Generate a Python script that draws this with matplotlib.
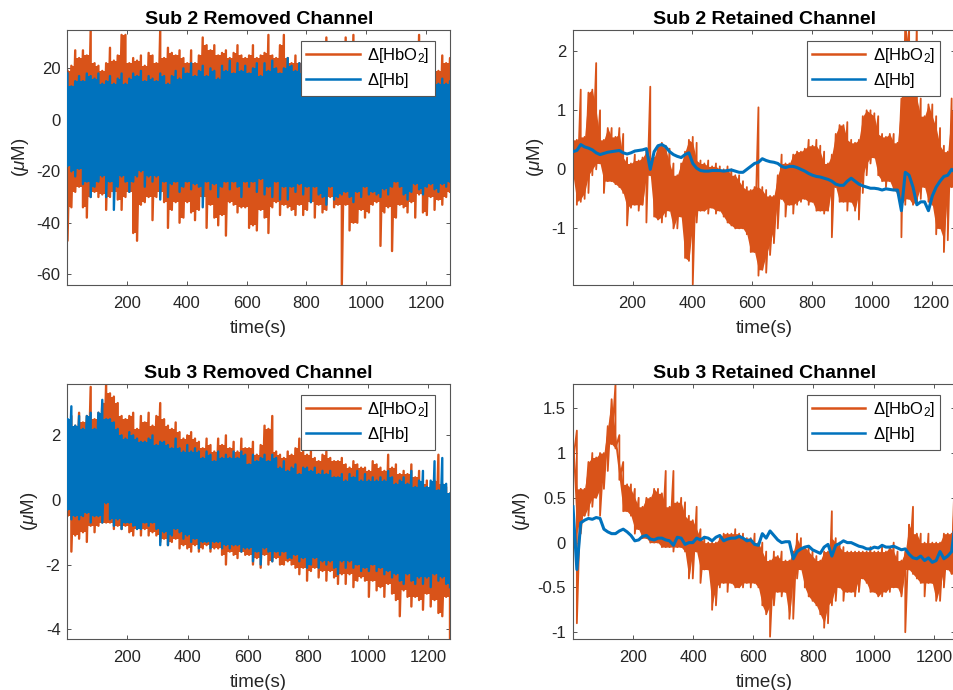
"""Four fNIRS channel traces: removed vs retained channels for subjects 2 and 3."""

import numpy as np
import matplotlib

matplotlib.use("Agg")
import matplotlib.pyplot as plt

plt.rcParams["font.family"] = ["Liberation Sans", "DejaVu Sans"]
plt.rcParams["mathtext.fontset"] = "custom"
plt.rcParams["mathtext.rm"] = "Liberation Sans"
plt.rcParams["mathtext.it"] = "Liberation Sans:italic"
plt.rcParams["mathtext.bf"] = "Liberation Sans:bold"

ORANGE = "#D95319"
BLUE = "#0072BD"
EDGE = "#555555"
TEXT = "#262626"

# dense panels: upper and lower reach of each trace, read every ~13 s
S2_REM_HBO2_TOP = [
    19, 21, 27, 24, 27, 25, 35, 22, 21, 19,
    22, 28, 23, 25, 33, 33, 22, 24, 23, 25,
    21, 26, 25, 22, 35, 24, 28, 26, 25, 27,
    24, 22, 27, 22, 25, 32, 29, 27, 29, 25,
    26, 27, 24, 26, 29, 25, 24, 25, 29, 24,
    25, 26, 33, 25, 24, 29, 33, 24, 22, 25,
    22, 24, 26, 23, 24, 26, 23, 32, 24, 22,
    24, 22, 32, 24, 33, 24, 22, 30, 25, 23,
    22, 25, 23, 26, 24, 22, 24, 23, 25, 22,
    24, 33, 23, 20, 22, 24, 19, 25, 22, 24,
]
S2_REM_HBO2_BOT = [
    -47, -34, -28, -26, -34, -38, -30, -28, -30, -29,
    -35, -30, -28, -31, -35, -30, -28, -44, -47, -33,
    -32, -30, -39, -30, -28, -32, -42, -35, -32, -40,
    -38, -32, -36, -39, -35, -30, -42, -33, -38, -41,
    -37, -45, -32, -33, -36, -34, -34, -42, -41, -43,
    -35, -38, -44, -34, -32, -37, -33, -34, -35, -37,
    -33, -37, -35, -32, -38, -33, -36, -35, -30, -34,
    -33, -64, -33, -43, -40, -40, -35, -38, -36, -33,
    -32, -49, -36, -34, -51, -38, -33, -34, -36, -32,
    -38, -29, -36, -37, -30, -35, -31, -33, -30, -28,
]
S2_REM_HB_TOP = [
    18, 13, 15, 17, 15, 18, 17, 16, 18, 14,
    15, 17, 14, 16, 18, 14, 16, 18, 17, 19,
    15, 17, 16, 15, 18, 17, 14, 17, 19, 16,
    20, 18, 22, 17, 19, 21, 17, 20, 19, 16,
    21, 19, 23, 18, 22, 19, 21, 18, 20, 22,
    17, 22, 19, 23, 20, 18, 20, 24, 21, 19,
    22, 18, 20, 24, 18, 20, 19, 17, 15, 17,
    14, 16, 18, 13, 15, 14, 16, 14, 13, 15,
    14, 13, 15, 13, 14, 16, 13, 15, 12, 14,
    15, 14, 12, 15, 13, 15, 14, 16, 14, 15,
]
S2_REM_HB_BOT = [
    -18, -20, -22, -19, -25, -24, -30, -26, -24, -22,
    -30, -24, -35, -26, -22, -24, -28, -24, -22, -20,
    -26, -22, -24, -22, -31, -24, -30, -25, -24, -28,
    -26, -24, -27, -25, -26, -34, -24, -27, -25, -30,
    -26, -24, -27, -24, -26, -30, -24, -26, -24, -28,
    -23, -29, -26, -30, -24, -31, -26, -31, -26, -28,
    -25, -29, -26, -32, -26, -29, -30, -33, -26, -31,
    -30, -29, -28, -30, -32, -28, -30, -26, -29, -28,
    -29, -30, -27, -29, -26, -24, -26, -29, -31, -28,
    -25, -27, -29, -26, -25, -27, -28, -25, -26, -24,
]

S3_REM_HBO2_TOP = [
    2.4, 2.6, 2.3, 2.7, 2.4, 2.6, 3.5, 2.5, 2.7, 3.0,
    3.6, 3.3, 3.2, 3.0, 2.6, 2.5, 2.6, 2.7, 2.2, 2.6,
    2.4, 2.7, 2.3, 2.6, 3.0, 2.5, 2.3, 2.2, 2.4, 2.1,
    1.9, 2.0, 2.1, 1.9, 1.8, 1.6, 1.9, 1.7, 1.5, 1.9,
    1.7, 2.0, 1.6, 1.8, 1.5, 1.9, 1.6, 1.6, 1.8, 1.4,
    1.7, 2.3, 2.2, 2.6, 1.5, 1.4, 1.3, 1.5, 1.4, 1.6,
    1.9, 1.5, 1.4, 1.5, 1.3, 1.2, 1.4, 1.5, 1.3, 1.2,
    1.2, 1.3, 1.1, 1.0, 1.2, 1.1, 1.0, 1.0, 0.9, 1.2,
    1.1, 1.0, 0.9, 1.4, 1.0, 1.1, 0.8, 0.9, 0.8, 1.1,
    0.7, 0.9, 0.5, 0.6, 0.4, 0.6, 1.4, 0.5, 0.4, 0.2,
]
S3_REM_HBO2_BOT = [
    -0.5, -1.6, -1.1, -1.2, -1.0, -1.3, -0.8, -1.0, -0.8, -0.7,
    -0.7, -0.7, -0.9, -0.8, -0.9, -0.8, -1.0, -1.1, -0.9, -1.1,
    -0.9, -1.1, -1.0, -1.1, -1.3, -1.2, -1.4, -1.3, -1.2, -1.5,
    -1.4, -1.5, -1.6, -1.4, -1.6, -1.5, -1.4, -1.6, -1.5, -1.5,
    -1.7, -2.0, -1.6, -1.7, -1.8, -1.6, -1.7, -1.7, -2.0, -1.8,
    -2.1, -1.7, -2.0, -1.9, -1.8, -2.0, -2.0, -1.9, -2.0, -2.1,
    -2.3, -2.1, -2.5, -2.2, -2.1, -2.4, -2.2, -2.5, -2.2, -2.4,
    -2.6, -2.3, -2.6, -2.3, -2.7, -2.5, -2.4, -2.5, -3.0, -2.5,
    -2.8, -2.7, -3.0, -2.6, -2.9, -3.1, -3.6, -2.8, -3.0, -3.3,
    -3.0, -3.1, -3.4, -2.9, -3.3, -3.1, -3.5, -3.6, -3.0, -4.3,
]
S3_REM_HB_TOP = [
    2.5, 2.9, 2.3, 2.6, 2.2, 2.6, 2.7, 2.2, 2.7, 3.1,
    2.5, 2.5, 2.4, 2.2, 2.0, 1.9, 2.1, 2.0, 1.9, 1.8,
    1.8, 1.9, 2.0, 1.7, 1.8, 1.8, 1.7, 1.6, 1.9, 1.6,
    1.5, 1.7, 1.5, 1.6, 1.5, 1.3, 1.5, 1.4, 1.2, 1.5,
    1.3, 1.4, 1.3, 1.5, 1.3, 1.5, 1.4, 1.1, 1.4, 1.2,
    1.3, 1.4, 1.2, 1.4, 1.3, 1.0, 1.2, 0.9, 1.0, 1.1,
    0.8, 1.0, 1.0, 0.9, 1.0, 0.8, 0.9, 0.8, 0.9, 0.7,
    0.7, 0.8, 0.6, 0.8, 0.7, 0.9, 0.6, 0.8, 0.6, 0.7,
    0.6, 0.7, 0.6, 0.9, 0.7, 0.5, 0.6, 0.7, 0.5, 0.9,
    0.4, 0.6, 0.9, 0.4, 0.6, 1.2, 0.3, 1.3, 0.5, 0.2,
]
S3_REM_HB_BOT = [
    -0.3, -0.6, -0.5, -0.6, -0.5, -0.4, -0.7, -0.5, -0.5, -0.7,
    -0.1, -0.6, -0.8, -0.6, -0.9, -0.7, -0.7, -0.8, -0.9, -0.9,
    -0.7, -0.8, -0.7, -0.9, -1.4, -1.0, -1.4, -1.1, -0.9, -1.0,
    -1.2, -1.1, -1.3, -1.2, -1.5, -1.3, -1.3, -1.5, -1.3, -1.3,
    -1.5, -1.4, -1.5, -1.4, -1.4, -1.6, -1.5, -1.5, -1.9, -1.6,
    -2.0, -1.5, -1.6, -1.9, -1.6, -1.7, -1.6, -1.8, -1.8, -1.7,
    -1.9, -1.8, -2.1, -2.0, -1.8, -2.1, -1.9, -2.0, -1.9, -2.1,
    -2.3, -1.9, -2.1, -1.9, -2.1, -2.0, -2.2, -2.1, -2.2, -2.0,
    -2.2, -2.1, -2.3, -2.2, -2.4, -2.3, -2.5, -2.6, -2.3, -2.5,
    -2.6, -2.4, -2.6, -2.4, -2.7, -2.3, -2.5, -2.4, -2.6, -2.7,
]

# retained channels: orange reach per sample, blue is a single trace
S2_RET_HBO2_TOP = [
    0.5, 0.5, 1.35, 0.55, 1.3, 1.35, 1.8, 1.0, 0.5, 0.7,
    0.7, 0.55, 0.7, 0.6, 0.2, 0.1, 0.25, 0.15, 0.2, 0.3,
    1.4, 0.2, 0.4, 0.45, 0.4, 0.35, 0.1, -0.1, 0.1, 0.3,
    0.5, 0.55, 0.45, 0.15, 0.1, 0.15, 0.05, 0.1, 0.05, 0.0,
    0.05, 0.0, -0.1, -0.1, -0.2, -0.3, -0.35, -0.3, 1.05, -0.3,
    -0.35, -0.45, -0.45, -0.1, 0.25, 0.1, 0.1, 0.25, 0.3, 0.3,
    0.35, 0.5, 0.4, 0.5, 0.4, 0.3, 0.1, 0.25, 0.6, 0.75,
    0.75, 0.8, 0.5, 0.45, 0.5, 0.9, 1.0, 1.0, 0.95, 0.9,
    0.6, 0.55, 0.6, 0.6, 0.45, 1.2, 2.5, 2.5, 2.0, 2.5,
    1.2, 0.9, 1.1, 1.1, 0.9, 0.7, 0.4, 0.3, 1.2, 1.0,
]
S2_RET_HBO2_BOT = [
    -0.1, -0.6, -0.55, -0.5, -0.4, -0.1, 0.0, 0.1, -0.4, -0.2,
    -0.2, -0.25, -0.3, -0.4, -0.95, -0.65, -0.6, -0.7, -0.6, -0.9,
    -0.1, -0.8, -0.85, -0.9, -0.8, -0.7, -1.0, -1.0, -0.8, -1.5,
    -1.55, -1.95, -0.9, -0.7, -0.7, -0.75, -0.65, -0.75, -0.7, -0.8,
    -0.9, -0.95, -1.0, -1.0, -1.0, -1.1, -1.4, -1.4, -1.8, -1.7,
    -1.75, -1.45, -1.25, -1.0, -0.5, -0.8, -0.6, -0.75, -0.6, -0.55,
    -0.5, -0.6, -0.55, -0.7, -0.7, -0.75, -0.7, -1.15, -0.3, -0.55,
    -0.55, -0.7, -0.55, -0.7, -0.85, -0.4, -0.1, 0.1, 0.2, -0.1,
    -0.2, -0.3, -0.2, -0.35, -0.4, -1.15, -0.6, -0.5, -0.6, -0.6,
    -0.5, -0.3, -0.55, -0.6, -1.1, -1.0, -1.4, -1.2, -0.3, -0.3,
]
S2_RET_HB = [
    0.3, 0.32, 0.42, 0.38, 0.36, 0.33, 0.28, 0.25, 0.27, 0.29,
    0.3, 0.31, 0.32, 0.28, 0.26, 0.28, 0.31, 0.32, 0.33, 0.35,
    0.0, 0.3, 0.4, 0.42, 0.38, 0.3, 0.25, 0.22, 0.2, 0.25,
    0.28, 0.1, 0.02, -0.02, -0.03, -0.03, -0.02, -0.02, -0.02, -0.03,
    -0.02, -0.01, -0.03, -0.05, -0.05, 0.0, 0.05, 0.1, 0.12, 0.18,
    0.15, 0.13, 0.12, 0.1, 0.05, 0.03, 0.05, 0.05, 0.03, 0.0,
    -0.03, -0.07, -0.1, -0.12, -0.13, -0.15, -0.17, -0.2, -0.25, -0.27,
    -0.27, -0.2, -0.15, -0.2, -0.25, -0.28, -0.3, -0.32, -0.32, -0.33,
    -0.35, -0.33, -0.34, -0.35, -0.35, -0.7, -0.05, -0.1, -0.3, -0.6,
    -0.55, -0.55, -0.7, -0.45, -0.3, -0.2, -0.12, -0.1, 0.0, -0.05,
]

S3_RET_HBO2_TOP = [
    1.2, 1.25, 0.6, 0.6, 0.9, 1.0, 0.95, 1.0, 1.0, 1.3,
    1.6, 1.77, 1.2, 0.9, 0.65, 0.65, 0.6, 0.5, 0.4, 0.5,
    0.5, 0.6, 0.6, 0.55, 0.8, 0.4, 0.8, 0.45, 0.5, 0.45,
    0.3, 0.25, 0.4, 0.15, 0.05, 0.0, 0.0, 0.0, 0.05, 0.1,
    0.1, 0.1, 0.15, 0.1, 0.1, 0.05, 0.05, 0.1, 0.0, 0.0,
    -0.1, -0.2, -0.1, -0.15, -0.1, -0.2, -0.2, -0.1, 0.1, 0.05,
    -0.05, -0.05, -0.1, -0.15, -0.2, -0.1, -0.1, 0.35, 0.05, 0.0,
    -0.05, -0.1, -0.1, -0.1, -0.1, -0.1, -0.1, -0.05, -0.1, -0.1,
    -0.05, -0.1, -0.05, 0.0, -0.1, -0.2, -0.1, 0.2, 0.4, 0.1,
    0.1, 0.0, 0.1, 0.0, 0.0, 0.0, 0.1, 0.1, 0.1, 1.05,
]
S3_RET_HBO2_BOT = [
    0.9, -0.9, 0.1, 0.3, 0.3, 0.4, 0.5, 0.3, 0.6, 0.8,
    1.1, 1.05, 0.7, 0.35, 0.35, 0.3, 0.1, 0.15, 0.05, 0.05,
    0.0, 0.0, 0.0, -0.05, -0.05, -0.05, -0.1, -0.05, -0.05, -0.1,
    -0.4, -0.4, -0.1, -0.45, -0.3, -0.3, -0.75, -0.7, -0.5, -0.45,
    -0.55, -0.45, -0.5, -0.5, -0.5, -0.45, -0.5, -0.45, -0.5, -0.7,
    -0.8, -1.05, -0.7, -0.55, -0.6, -0.55, -0.85, -0.85, -0.4, -0.3,
    -0.5, -0.6, -0.65, -0.7, -0.8, -0.95, -0.9, -0.7, -0.65, -0.5,
    -0.65, -0.55, -0.55, -0.6, -0.55, -0.4, -0.45, -0.55, -0.55, -0.6,
    -0.6, -0.55, -0.55, -0.5, -0.5, -0.6, -1.0, -0.3, -0.35, -0.4,
    -0.45, -0.6, -0.45, -0.45, -0.65, -0.65, -0.5, -0.3, -0.35, -0.35,
]
S3_RET_HB = [
    0.4, -0.3, 0.22, 0.25, 0.27, 0.26, 0.28, 0.27, 0.15, 0.12,
    0.1, 0.1, 0.13, 0.15, 0.12, 0.08, 0.02, 0.03, 0.07, 0.08,
    0.04, 0.03, 0.05, 0.05, 0.03, 0.02, -0.03, 0.06, 0.05, -0.02,
    0.0, 0.0, 0.05, 0.03, 0.06, 0.05, 0.02, 0.06, 0.08, 0.02,
    0.04, 0.05, 0.05, 0.07, 0.05, 0.02, 0.03, -0.02, -0.03, 0.1,
    0.05, 0.13, 0.08, 0.03, 0.0, 0.01, 0.01, -0.18, -0.1, -0.07,
    -0.05, -0.04, -0.08, -0.1, -0.12, -0.05, -0.02, -0.15, -0.03, -0.01,
    0.02, 0.0, 0.0, -0.02, -0.04, -0.05, -0.07, -0.07, -0.05, -0.06,
    -0.03, -0.05, -0.05, -0.04, -0.06, -0.08, -0.07, -0.13, -0.17, -0.18,
    -0.15, -0.2, -0.17, -0.22, -0.2, -0.1, -0.18, -0.15, -0.1, 0.25,
]


def draw_band(ax, t, top, bot, color, zorder, dense):
    """Vertical strokes through the readings, with the overlap of neighbours filled."""
    top, bot = np.asarray(top, float), np.asarray(bot, float)
    inner_top = np.append(np.minimum(top[:-1], top[1:]), top[-1])
    inner_bot = np.append(np.maximum(bot[:-1], bot[1:]), bot[-1])
    ax.fill_between(t, inner_bot, inner_top, where=inner_top > inner_bot,
                    step="post" if dense else None,
                    color=color, lw=0, zorder=zorder)
    xs = np.repeat(t, 2)
    ys = np.column_stack([top, bot]).ravel()
    line, = ax.plot(xs, ys, color=color, lw=1.7 if dense else 1.3, zorder=zorder)
    return line


def add_panel(box, title, xlim, ylim, yticks, yticklabels, hbo2, hb_top, hb_bot=None):
    """box is (left, top, right, bottom) in pixels of the 954x690 figure."""
    left, top, right, bottom = box
    ax = fig.add_axes([left / W, 1 - bottom / H, (right - left) / W, (bottom - top) / H])
    t = np.linspace(xlim[0], xlim[1], len(hb_top))
    dense = hb_bot is not None
    line_o = draw_band(ax, t, hbo2[0], hbo2[1], ORANGE, 2, dense)
    if dense:
        line_b = draw_band(ax, t, hb_top, hb_bot, BLUE, 3, dense)
    else:
        line_b, = ax.plot(t, hb_top, color=BLUE, lw=2.2, zorder=3)

    ax.set_xlim(*xlim)
    ax.set_ylim(*ylim)
    ax.set_xticks([200, 400, 600, 800, 1000, 1200])
    ax.set_yticks(yticks)
    ax.set_yticklabels(yticklabels)
    ax.tick_params(direction="in", top=True, right=True, length=3, width=0.7,
                   color=EDGE, labelcolor=TEXT, labelsize=12)
    ax.tick_params(axis="x", pad=8.5)
    ax.tick_params(axis="y", pad=5)
    for spine in ax.spines.values():
        spine.set_color(EDGE)
        spine.set_linewidth(0.8)

    ax.set_title(title, fontsize=14, fontweight="bold", color="black", pad=4.5)
    ax.set_xlabel("time(s)", fontsize=13.5, color=TEXT, labelpad=6)
    ax.set_ylabel(r"($\mu$M)", fontsize=13.5, color=TEXT, labelpad=4)

    # legend box sits at a fixed pixel offset from the axes corner
    anchor = ((left + 233.5) / W, 1 - (top + 10.5) / H)
    leg = ax.legend([line_o, line_b], [r"$\Delta$[HbO$_2$]", r"$\Delta$[Hb]"],
                    loc="upper left", bbox_to_anchor=anchor,
                    bbox_transform=fig.transFigure, borderaxespad=0,
                    fontsize=12, fancybox=False, framealpha=1, edgecolor=EDGE,
                    handlelength=3.2, handletextpad=0.45, borderpad=0.32,
                    labelspacing=0.38)
    leg.get_frame().set_linewidth(0.8)
    leg.set_zorder(5)
    for handle in leg.get_lines():
        handle.set_linewidth(1.8)
    return ax


W, H = 954, 690
fig = plt.figure(figsize=(W / 100, H / 100), dpi=100, facecolor="white")

add_panel((67.5, 30, 450, 284.5), "Sub 2 Removed Channel", (1, 1280), (-64, 34.9),
          [-60, -40, -20, 0, 20], ["-60", "-40", "-20", "0", "20"],
          (S2_REM_HBO2_TOP, S2_REM_HBO2_BOT), S2_REM_HB_TOP, S2_REM_HB_BOT)
add_panel((573, 30, 955.5, 284.5), "Sub 2 Retained Channel", (1, 1280), (-1.95, 2.36),
          [-1, 0, 1, 2], ["-1", "0", "1", "2"],
          (S2_RET_HBO2_TOP, S2_RET_HBO2_BOT), S2_RET_HB)
add_panel((67.5, 384, 450, 638.5), "Sub 3 Removed Channel", (1.3, 1272), (-4.29, 3.59),
          [-4, -2, 0, 2], ["-4", "-2", "0", "2"],
          (S3_REM_HBO2_TOP, S3_REM_HBO2_BOT), S3_REM_HB_TOP, S3_REM_HB_BOT)
add_panel((573, 384, 955.5, 638.5), "Sub 3 Retained Channel", (1.3, 1272), (-1.07, 1.77),
          [-1, -0.5, 0, 0.5, 1, 1.5], ["-1", "-0.5", "0", "0.5", "1", "1.5"],
          (S3_RET_HBO2_TOP, S3_RET_HBO2_BOT), S3_RET_HB)

fig.savefig("out.png", dpi=100)
plt.close(fig)
